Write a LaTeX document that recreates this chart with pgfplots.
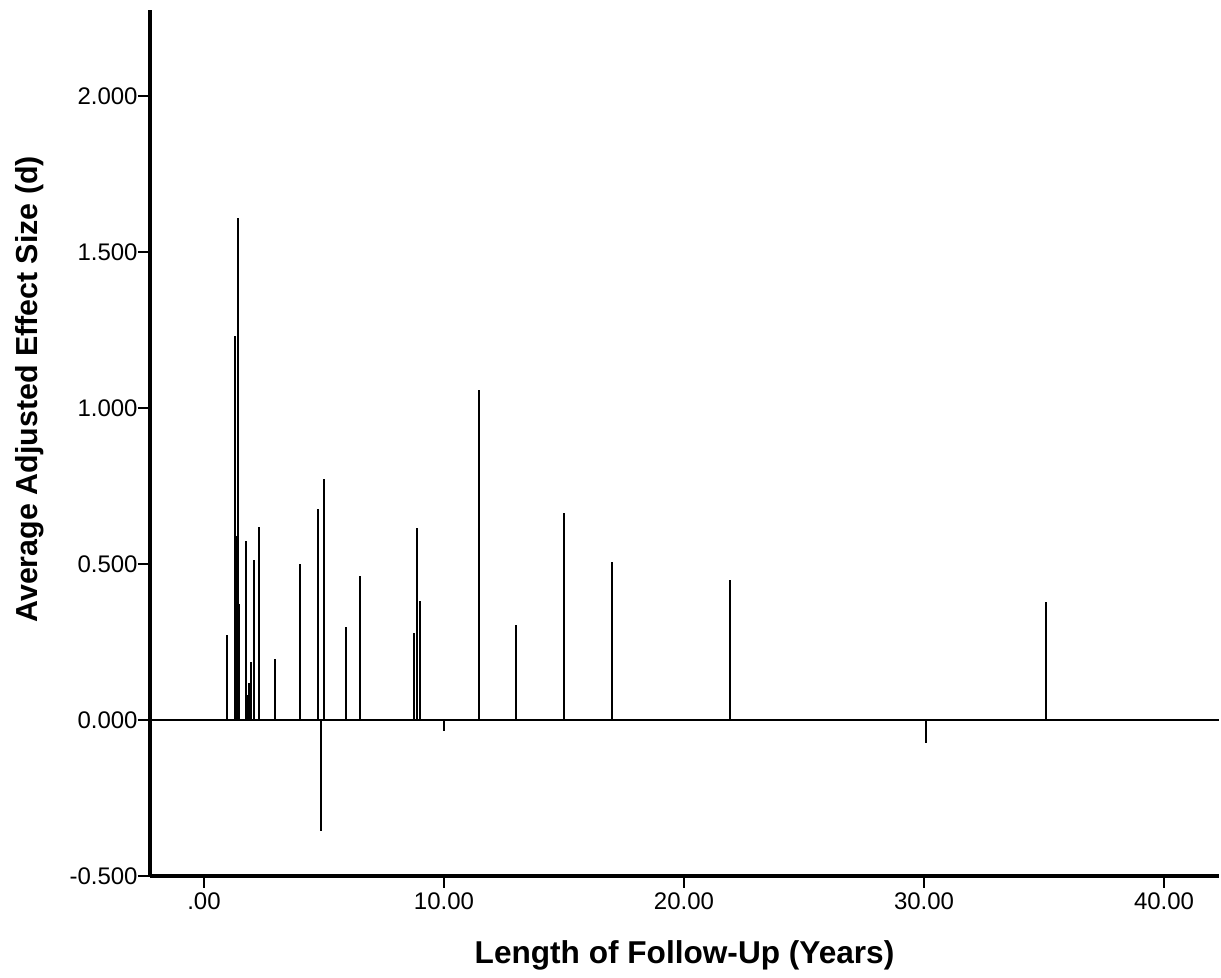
\documentclass[border=0pt]{standalone}
\usepackage{pgfplots}
\pgfplotsset{compat=1.18}
\usepackage{fontspec}
\setmainfont{Liberation Sans}
\begin{document}
\begin{tikzpicture}
\begin{axis}[
  scale only axis,
  width=534.5pt, height=433pt,
  xmin=-2.25, xmax=42.29,
  ymin=-0.5, ymax=2.276,
  axis lines*=left,
  axis line style={line width=1.8pt},
  tick align=outside,
  major tick length=6pt,
  tick style={black, line width=1pt},
  xtick={0,10,20,30,40},
  xticklabels={.00,10.00,20.00,30.00,40.00},
  ytick={-0.5,0,0.5,1,1.5,2},
  yticklabels={-0.500,0.000,0.500,1.000,1.500,2.000},
  /pgf/number format/assume math mode=true,
  ticklabel style={font=\fontsize{12}{14}\selectfont},
  yticklabel style={inner xsep=0pt},
  xticklabel style={inner ysep=2pt},
  xlabel={\textbf{Length of Follow-Up (Years)}},
  ylabel={\textbf{Average Adjusted Effect Size (d)}},
  xlabel style={font=\fontsize{15.8}{18}\selectfont, at={(axis description cs:0.5,-0.0912)}, anchor=center},
  ylabel style={font=\fontsize{15.2}{18}\selectfont, at={(axis description cs:-0.1123,0.562)}, anchor=center},
  clip=false,
]
\addplot[black, line width=1pt] coordinates {(-2.25,0) (42.29,0)};
\addplot[ycomb, black, line width=1pt, mark=none] coordinates {
(0.97,0.271)
(1.31,1.232)
(1.36,0.59)
(1.43,1.608)
(1.47,0.372)
(1.75,0.575)
(1.80,0.080)
(1.87,0.120)
(1.97,0.185)
(2.07,0.513)
(2.28,0.619)
(2.97,0.194)
(3.99,0.499)
(4.73,0.675)
(4.86,-0.356)
(4.98,0.772)
(5.90,0.297)
(6.49,0.461)
(8.74,0.279)
(8.89,0.615)
(9.00,0.380)
(10.0,-0.035)
(11.46,1.058)
(13.0,0.304)
(15.01,0.662)
(17.01,0.505)
(21.9,0.448)
(30.07,-0.074)
(35.07,0.378)
};
\end{axis}
\path (current axis.north east) ++(1pt,5pt);
\path (current axis.south west) ++(-75pt,-51pt);
\end{tikzpicture}
\end{document}
